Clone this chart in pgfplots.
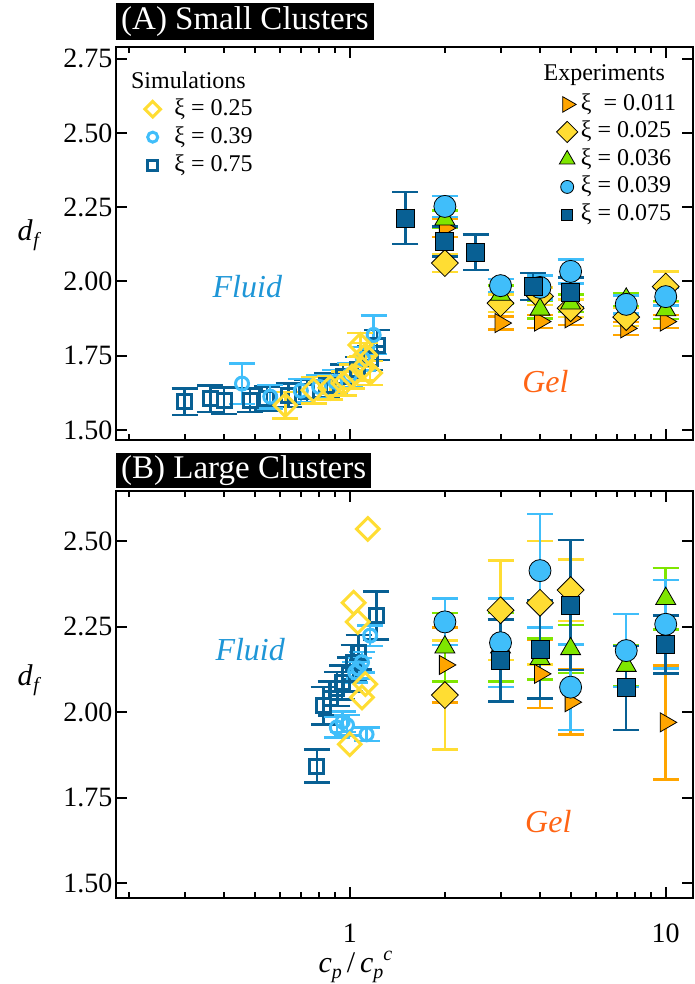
\documentclass[border=0pt]{standalone}
\usepackage{pgfplots}
\usepackage{pgfplotstable}
\pgfplotsset{compat=1.18}
\usepackage{fontspec}
\setmainfont{Liberation Serif}

\definecolor{corange}{RGB}{255,165,0}
\definecolor{cyellow}{RGB}{255,221,51}
\definecolor{cgreen}{RGB}{127,230,0}
\definecolor{clblue}{RGB}{64,190,250}
\definecolor{cdblue}{RGB}{8,96,148}
\definecolor{cfluid}{RGB}{30,150,215}
\definecolor{cgel}{RGB}{255,100,20}

% ---------- top panel, simulations ----------
\pgfplotstableread{
x y e
0.300 1.595 0.045
0.362 1.605 0.045
0.400 1.598 0.045
0.484 1.600 0.040
0.547 1.606 0.040
0.640 1.617 0.040
0.732 1.628 0.040
0.847 1.651 0.040
0.953 1.680 0.040
1.060 1.705 0.040
1.160 1.741 0.040
1.220 1.786 0.050
}\TopSimSq
\pgfplotstableread{
x y e
0.456 1.656 0.068
0.560 1.612 0.040
0.700 1.632 0.040
0.800 1.645 0.040
0.900 1.662 0.040
1.000 1.685 0.040
1.100 1.740 0.040
1.190 1.820 0.065
}\TopSimCi
\pgfplotstableread{
x y e
0.625 1.583 0.045
0.768 1.634 0.045
0.868 1.642 0.040
0.956 1.656 0.040
1.016 1.680 0.040
1.093 1.707 0.040
1.160 1.692 0.040
1.120 1.752 0.040
1.080 1.786 0.040
}\TopSimDi
% ---------- top panel, experiments ----------
\pgfplotstableread{
x y e
2.0 2.180 0.030
3.0 1.860 0.022
4.0 1.865 0.022
5.0 1.876 0.022
7.5 1.842 0.022
10  1.865 0.022
}\TopExOr
\pgfplotstableread{
x y e
2.0 2.062 0.030
3.0 1.927 0.030
4.0 1.950 0.030
5.0 1.910 0.030
7.5 1.880 0.030
10  1.983 0.050
}\TopExYe
\pgfplotstableread{
x y e
2.0 2.210 0.030
3.0 1.956 0.030
4.0 1.906 0.030
5.0 1.927 0.030
7.5 1.940 0.022
10  1.904 0.030
}\TopExGr
\pgfplotstableread{
x y e
2.0 2.253 0.035
3.0 1.986 0.022
4.0 1.980 0.040
5.0 2.034 0.040
7.5 1.923 0.030
10  1.949 0.030
}\TopExCi
\pgfplotstableread{
x y e
1.5 2.214 0.087
2.0 2.135 0.050
2.5 2.098 0.060
3.8 1.983 0.045
5.0 1.963 0.050
}\TopExSq
% ---------- bottom panel, simulations ----------
\pgfplotstableread{
x y e
0.787 1.842 0.048
0.826 2.019 0.055
0.870 2.040 0.050
0.910 2.068 0.050
0.945 2.087 0.050
1.000 2.110 0.050
1.028 2.146 0.050
1.066 2.175 0.050
1.213 2.283 0.070
}\BotSimSq
\pgfplotstableread{
x y e
0.910 1.955 0.030
0.950 1.972 0.030
0.980 1.962 0.030
1.040 2.117 0.030
1.066 2.128 0.030
1.093 2.146 0.030
1.160 2.224 0.030
1.130 1.935 0.020
}\BotSimCi
\pgfplotstableread{
x y
1.000 1.906
1.093 2.043
1.120 2.082
1.028 2.320
1.060 2.264
1.140 2.536
}\BotSimDi
% ---------- bottom panel, experiments ----------
\pgfplotstableread{
x y e
2.0 2.138 0.110
4.0 2.112 0.100
5.0 2.029 0.095
10  1.970 0.167
}\BotExOr
\pgfplotstableread{
x y e
2.0 2.050 0.160
3.0 2.298 0.145
4.0 2.320 0.180
5.0 2.357 0.090
}\BotExYe
\pgfplotstableread{
x y e
2.0 2.190 0.100
3.0 2.190 0.100
4.0 2.156 0.060
5.0 2.185 0.070
7.5 2.136 0.060
10  2.332 0.090
}\BotExGr
\pgfplotstableread{
x y e
2.0 2.264 0.068
3.0 2.203 0.130
4.0 2.414 0.166
5.0 2.073 0.125
7.5 2.180 0.107
10  2.257 0.130
}\BotExCi
\pgfplotstableread{
x y e
3.0 2.151 0.120
4.0 2.183 0.143
5.0 2.313 0.190
7.5 2.071 0.123
10  2.198 0.085
}\BotExSq

\pgfplotsset{
  panel/.style={
    scale only axis, width=577pt, xmin=0.182, xmax=12.2,
    axis line style={line width=2.5pt},
    tick align=inside, major tick length=11pt, minor tick length=6pt,
    every tick/.style={line width=2pt, black},
    xtick={1,10}, xticklabels={1,10},
    xticklabel style={yshift=-22pt},
    minor xtick={0.2,0.3,0.4,0.5,0.6,0.7,0.8,0.9,2,3,4,5,6,7,8,9},
    ytick={1.5,1.75,2,2.25,2.5,2.75},
    /pgf/number format/assume math mode=true,
    yticklabel style={/pgf/number format/fixed, /pgf/number format/fixed zerofill, /pgf/number format/precision=2},
    tick label style={font=\fontsize{28}{30}\selectfont},
    clip=false,
    ylabel={\fontsize{30}{30}\selectfont\textit{d}\kern0.5pt\raisebox{-6pt}{\fontsize{20}{20}\selectfont\textit{f}}},
    ylabel style={rotate=-90, anchor=center},
  },
  simerr/.style={/pgfplots/error bars/y dir=both, /pgfplots/error bars/y explicit,
    /pgfplots/error bars/error bar style={#1, solid, line width=2.5pt},
    /pgfplots/error bars/error mark options={rotate=90, #1, solid, line width=2.5pt, mark size=13pt}},
  expmark/.style n args={4}{only marks, mark=#1, mark size=#2,
    mark options={draw=black, fill=#3, line width=0.8pt, solid, rotate=#4},
    simerr=#3},
  simsq/.style={only marks, mark=square, mark size=7pt, mark options={draw=cdblue, line width=3pt, solid}, simerr=cdblue},
  simci/.style={only marks, mark=o, mark size=6.5pt, mark options={draw=clblue, line width=3pt, solid}, simerr=clblue},
  simdi/.style={only marks, mark=square, mark size=8pt, mark options={draw=cyellow, line width=3pt, rotate=45, solid}},
  exor/.style={expmark={triangle*}{11pt}{corange}{-90}},
  exye/.style={expmark={square*}{9.5pt}{cyellow}{45}},
  exgr/.style={expmark={triangle*}{11.5pt}{cgreen}{0}},
  exci/.style={expmark={*}{11pt}{clblue}{0}},
  exsq/.style={expmark={square*}{9pt}{cdblue}{0}},
  limg/.style={legend image code/.code={\draw[##1] plot coordinates {(8.5pt,0pt)}; \path (0pt,0pt) (#1,0pt);}},
}

\begin{document}
\begin{tikzpicture}
\useasboundingbox (0,0) rectangle (695pt,-984pt);

% ================= TOP PANEL =================
\begin{semilogxaxis}[panel, at={(116pt,-440pt)}, anchor=south west, height=393pt,
  ymin=1.466, ymax=2.79, xticklabels={},
  ylabel style={at={(axis description cs:-0.15,0.52)}},
  reverse legend,
  legend style={draw=none, fill=none, at={(axis description cs:0.043,0.878)}, anchor=north west,
    font=\fontsize{24}{26}\selectfont, row sep=4pt,
    nodes={inner sep=1pt, text height=17pt, text depth=5pt}},
  legend cell align=left,
]
\addplot[simsq, limg=29pt, legend image post style={mark size=5pt}] table[x=x,y=y,y error=e]{\TopSimSq};
\addlegendentry{ξ = 0.75}
\addplot[simci, limg=29pt, legend image post style={mark size=5pt}] table[x=x,y=y,y error=e]{\TopSimCi};
\addlegendentry{ξ = 0.39}
\addplot[simdi, simerr=cyellow, limg=29pt, legend image post style={mark size=5.5pt}] table[x=x,y=y,y error=e]{\TopSimDi};
\addlegendentry{ξ = 0.25}
\node[anchor=west, font=\fontsize{24}{26}\selectfont] at (axis description cs:0.02,0.916) {Simulations};
\node[anchor=west, font=\fontsize{24}{26}\selectfont] at (axis description cs:0.735,0.929) {Experiments};
\node[font=\fontsize{32}{32}\selectfont\itshape, text=cfluid] at (axis cs:0.474,1.983) {Fluid};
\node[font=\fontsize{32}{32}\selectfont\itshape, text=cgel] at (axis cs:4.16,1.662) {Gel};
\node[anchor=south west, fill=black, text=white, inner xsep=5pt, inner ysep=3pt,
  text height=24pt, text depth=7pt, font=\fontsize{33}{33}\selectfont]
  at ([yshift=7pt]rel axis cs:0,1) {(A) Small Clusters};
\end{semilogxaxis}

\begin{semilogxaxis}[panel, at={(116pt,-440pt)}, anchor=south west, height=393pt,
  ymin=1.466, ymax=2.79, hide axis, ylabel={},
  legend style={draw=none, fill=none, at={(axis description cs:0.758,0.89)}, anchor=north west,
    font=\fontsize{24}{26}\selectfont, row sep=3.5pt,
    nodes={inner sep=1pt, text height=17pt, text depth=5pt}},
  legend cell align=left,
]
\addplot[exor, limg=21pt, legend image post style={mark size=9pt}] table[x=x,y=y,y error=e]{\TopExOr};
\addlegendentry{ξ\enspace= 0.011}
\addplot[exye, limg=21pt, legend image post style={mark size=7.5pt}] table[x=x,y=y,y error=e]{\TopExYe};
\addlegendentry{ξ = 0.025}
\addplot[exgr, limg=21pt, legend image post style={mark size=9pt}] table[x=x,y=y,y error=e]{\TopExGr};
\addlegendentry{ξ = 0.036}
\addplot[exci, limg=21pt, legend image post style={mark size=6.5pt}] table[x=x,y=y,y error=e]{\TopExCi};
\addlegendentry{ξ = 0.039}
\addplot[exsq, limg=21pt, legend image post style={mark size=5.5pt}] table[x=x,y=y,y error=e]{\TopExSq};
\addlegendentry{ξ = 0.075}
\end{semilogxaxis}

% ================= BOTTOM PANEL =================
\begin{semilogxaxis}[panel, at={(116pt,-898pt)}, anchor=south west, height=407pt,
  ymin=1.456, ymax=2.647,
  ylabel style={at={(axis description cs:-0.15,0.536)}},
  xlabel={\fontsize{30}{30}\selectfont\textit{c}\raisebox{-6pt}{\fontsize{20}{20}\selectfont\textit{p}}\,/\,\textit{c}\raisebox{-6pt}{\fontsize{20}{20}\selectfont\textit{p}}\raisebox{12pt}{\fontsize{20}{20}\selectfont\textit{c}}},
  xlabel style={at={(xticklabel cs:0.415)}, anchor=north, yshift=-2pt},
]
\addplot[simsq] table[x=x,y=y,y error=e]{\BotSimSq};
\addplot[simci] table[x=x,y=y,y error=e]{\BotSimCi};
\addplot[simdi] table[x=x,y=y]{\BotSimDi};
\addplot[exor] table[x=x,y=y,y error=e]{\BotExOr};
\addplot[exye] table[x=x,y=y,y error=e]{\BotExYe};
\addplot[exgr] table[x=x,y=y,y error=e]{\BotExGr};
\addplot[exci] table[x=x,y=y,y error=e]{\BotExCi};
\addplot[exsq] table[x=x,y=y,y error=e]{\BotExSq};
\node[font=\fontsize{32}{32}\selectfont\itshape, text=cfluid] at (axis cs:0.484,2.182) {Fluid};
\node[font=\fontsize{32}{32}\selectfont\itshape, text=cgel] at (axis cs:4.25,1.679) {Gel};
\node[anchor=south west, fill=black, text=white, inner xsep=5pt, inner ysep=2pt,
  text height=24pt, text depth=7pt, font=\fontsize{33}{33}\selectfont]
  at ([yshift=3pt]rel axis cs:0,1) {(B) Large Clusters};
\end{semilogxaxis}
\end{tikzpicture}
\end{document}
